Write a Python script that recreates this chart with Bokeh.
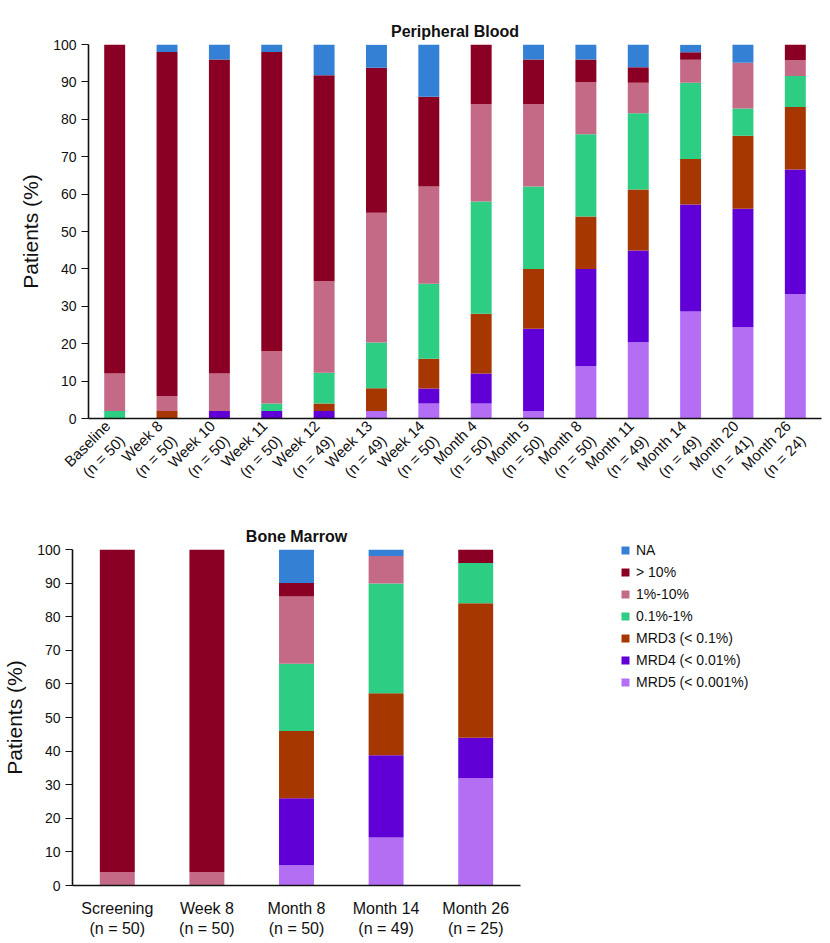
import math
from bokeh.plotting import figure
from bokeh.models import Legend, LegendItem, Spacer
from bokeh.layouts import column, row
from bokeh.embed import file_html
from bokeh.resources import INLINE

# ---------------- data ----------------
series = ["MRD5", "MRD4", "MRD3", "p01_1", "p1_10", "gt10", "NA"]
series_labels = ["MRD5 (< 0.001%)", "MRD4 (< 0.01%)", "MRD3 (< 0.1%)", "0.1%-1%", "1%-10%", "> 10%", "NA"]
colors = ["#b36ef4", "#6100d6", "#a63700", "#2ecd84", "#c46a86", "#8a0024", "#3380d4"]

pb_categories = ["Baseline\n(n = 50)", "Week 8\n(n = 50)", "Week 10\n(n = 50)", "Week 11\n(n = 50)",
                 "Week 12\n(n = 49)", "Week 13\n(n = 49)", "Week 14\n(n = 50)", "Month 4\n(n = 50)",
                 "Month 5\n(n = 50)", "Month 8\n(n = 50)", "Month 11\n(n = 49)", "Month 14\n(n = 49)",
                 "Month 20\n(n = 41)", "Month 26\n(n = 24)"]
pb_MRD5  = [0, 0, 0, 0, 0.0, 2.0, 4, 4, 2, 14, 20.4, 28.6, 24.4, 33.3]
pb_MRD4  = [0, 0, 2, 2, 2.0, 0.0, 4, 8, 22, 26, 24.5, 28.6, 31.7, 33.3]
pb_MRD3  = [0, 2, 0, 0, 2.0, 6.1, 8, 16, 16, 14, 16.3, 12.2, 19.5, 16.7]
pb_p01_1 = [2, 0, 0, 2, 8.2, 12.2, 20, 30, 22, 22, 20.4, 20.4, 7.3, 8.3]
pb_p1_10 = [10, 4, 10, 14, 24.5, 34.7, 26, 26, 22, 14, 8.2, 6.1, 12.2, 4.2]
pb_gt10  = [88, 92, 84, 80, 55.1, 38.8, 24, 16, 12, 6, 4.1, 2.0, 0.0, 4.2]
pb_NA    = [0, 2, 4, 2, 8.2, 6.1, 14, 0, 4, 4, 6.1, 2.0, 4.9, 0.0]

bm_categories = ["Screening\n(n = 50)", "Week 8\n(n = 50)", "Month 8\n(n = 50)",
                 "Month 14\n(n = 49)", "Month 26\n(n = 25)"]
bm_MRD5  = [0, 0, 6, 14.3, 32]
bm_MRD4  = [0, 0, 20, 24.5, 12]
bm_MRD3  = [0, 0, 20, 18.4, 40]
bm_p01_1 = [0, 0, 20, 32.7, 12]
bm_p1_10 = [4, 4, 20, 8.2, 0]
bm_gt10  = [96, 96, 4, 0.0, 4]
bm_NA    = [0, 0, 10, 2.0, 0]

yticks = list(range(0, 101, 10))
FONT = "Liberation Sans"


def style(p, tick_size, xlab_size):
    p.xgrid.visible = False
    p.ygrid.visible = False
    p.outline_line_color = None
    p.title.align = "center"
    p.title.text_font = FONT
    p.title.text_font_size = "16px"
    p.title.text_font_style = "bold"
    p.title.text_color = "#111111"
    p.yaxis.ticker = yticks
    p.yaxis.axis_label = "Patients (%)"
    p.yaxis.axis_label_text_font = FONT
    p.yaxis.axis_label_text_font_size = "21px"
    p.yaxis.axis_label_text_font_style = "normal"
    p.yaxis.axis_label_text_color = "#111111"
    p.yaxis.axis_label_standoff = 8
    p.yaxis.major_label_text_font = FONT
    p.yaxis.major_label_text_font_size = tick_size
    p.yaxis.major_label_text_color = "#111111"
    p.yaxis.major_tick_out = 7
    p.yaxis.major_tick_in = 0
    p.yaxis.minor_tick_line_color = None
    p.axis.axis_line_width = 1.6
    p.axis.axis_line_color = "#111111"
    p.yaxis.major_tick_line_color = "#111111"
    p.yaxis.major_tick_line_width = 1.2
    p.xaxis.major_tick_line_color = None
    p.xaxis.major_label_text_font = FONT
    p.xaxis.major_label_text_font_size = xlab_size
    p.xaxis.major_label_text_color = "#111111"


# ---------------- top figure ----------------
pb_data = dict(cat=pb_categories, MRD5=pb_MRD5, MRD4=pb_MRD4, MRD3=pb_MRD3,
               p01_1=pb_p01_1, p1_10=pb_p1_10, gt10=pb_gt10, NA=pb_NA)
p1 = figure(x_range=pb_categories, y_range=(0, 100), frame_width=733, frame_height=374,
            title="Peripheral Blood", output_backend="svg", toolbar_location=None,
            min_border_left=75, min_border_right=4, min_border_top=39, min_border_bottom=84,
            frame_align=False)
p1.vbar_stack(series, x="cat", width=0.4, color=colors, line_color=None, source=pb_data)
style(p1, "14px", "15px")
p1.xaxis.major_label_orientation = math.pi / 4
p1.xaxis.major_label_standoff = 6

# ---------------- bottom figure ----------------
bm_data = dict(cat=bm_categories, MRD5=bm_MRD5, MRD4=bm_MRD4, MRD3=bm_MRD3,
               p01_1=bm_p01_1, p1_10=bm_p1_10, gt10=bm_gt10, NA=bm_NA)
p2 = figure(x_range=bm_categories, y_range=(0, 100), frame_width=448, frame_height=336,
            title="Bone Marrow", output_backend="svg", toolbar_location=None,
            min_border_left=61, min_border_right=290, min_border_top=45, min_border_bottom=49,
            frame_align=False)
rs = p2.vbar_stack(series, x="cat", width=0.39, color=colors, line_color=None, source=bm_data)
style(p2, "14px", "16px")
p2.xaxis.major_label_standoff = 8

items = [LegendItem(label=series_labels[i], renderers=[rs[i]]) for i in range(len(series) - 1, -1, -1)]
legend = Legend(items=items, location=(100, 194), padding=0, margin=0,
                border_line_color=None, background_fill_alpha=0,
                glyph_width=10, glyph_height=10, label_height=18, spacing=4,
                label_standoff=6, label_text_font=FONT, label_text_font_size="14px",
                label_text_color="#111111")
p2.add_layout(legend, "right")

layout = column(Spacer(width=10, height=5),
                row(Spacer(width=13, height=10), p1, spacing=0),
                p2, spacing=0)
open("out.html", "w").write(file_html(layout, INLINE))
